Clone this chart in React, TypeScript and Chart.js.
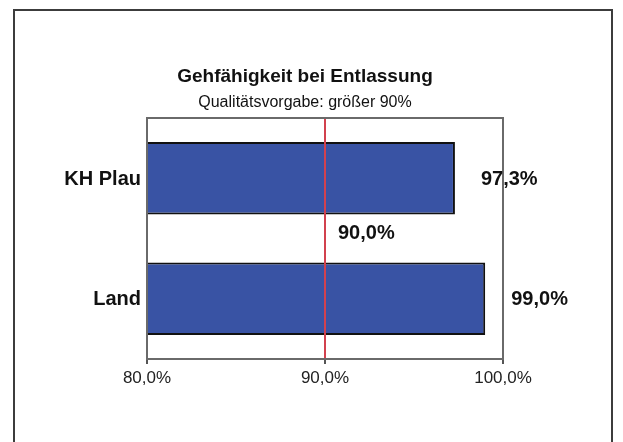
import React, { useEffect, useRef } from "react";
import { Chart, registerables } from "chart.js";

Chart.register(...registerables);

const categories: string[] = ["KH Plau", "Land"];
const values: number[] = [97.3, 99.0];
const targetValue = 90.0;
const xTicksMin = 80;
const xTicksMax = 100;
const xTickStep = 10;
const titleText = "Gehfähigkeit bei Entlassung";
const subtitleText = "Qualitätsvorgabe: größer 90%";

const FONT = "'Liberation Sans', Arial, sans-serif";
const fmt = (v: number) => v.toFixed(1).replace(".", ",") + "%";

const framePlugin = {
  id: "frame",
  beforeDraw(chart: any) {
    const ctx = chart.ctx;
    ctx.save();
    ctx.fillStyle = "#ffffff";
    ctx.fillRect(0, 0, chart.width, chart.height);
    ctx.strokeStyle = "#3c3c3c";
    ctx.lineWidth = 2;
    ctx.strokeRect(14, 10, 598, 470);
    ctx.restore();
  },
  afterDatasetsDraw(chart: any) {
    const ctx = chart.ctx;
    const a = chart.chartArea;
    ctx.save();
    ctx.strokeStyle = "#6a6a6a";
    ctx.lineWidth = 2;
    ctx.strokeRect(a.left, a.top, a.right - a.left, a.bottom - a.top);
    ctx.fillStyle = "#111111";
    ctx.font = `bold 20px ${FONT}`;
    ctx.textBaseline = "middle";
    const xs = chart.scales.x;
    const ys = chart.scales.y;
    // category labels (left of the plot area)
    ctx.textAlign = "right";
    chart.data.labels.forEach((lab: string, i: number) => {
      ctx.fillText(lab, a.left - 6, ys.getPixelForValue(i) + 1);
    });
    // data labels
    ctx.textAlign = "left";
    const meta = chart.getDatasetMeta(0);
    meta.data.forEach((bar: any, i: number) => {
      ctx.fillText(fmt(values[i]), bar.x + 26, bar.y + 1);
    });
    const midY = (ys.getPixelForValue(0) + ys.getPixelForValue(1)) / 2;
    ctx.fillText(fmt(targetValue), xs.getPixelForValue(targetValue) + 13, midY - 5);
    ctx.restore();
  },
};

export default function App() {
  const ref = useRef<HTMLCanvasElement | null>(null);
  useEffect(() => {
    if (!ref.current) return;
    const chart = new Chart(ref.current, {
      type: "bar",
      data: {
        labels: categories,
        datasets: [
          {
            type: "bar",
            data: values,
            backgroundColor: "#3953a4",
            borderColor: "#111111",
            borderWidth: 2,
            borderSkipped: false,
            grouped: false,
            barPercentage: 0.6,
            categoryPercentage: 1,
            order: 2,
          } as any,
          {
            type: "line",
            data: [
              { x: targetValue, y: 0 },
              { x: targetValue, y: 1 },
            ],
            xAxisID: "x",
            yAxisID: "y2",
            borderColor: "#d2414e",
            borderWidth: 2,
            pointRadius: 0,
            order: 1,
          } as any,
        ],
      },
      options: {
        indexAxis: "y",
        responsive: false,
        animation: false,
        devicePixelRatio: 1,
        layout: { padding: { left: 107, right: 120, top: 65, bottom: 53 } },
        plugins: {
          legend: { display: false },
          tooltip: { enabled: false },
          title: {
            display: true,
            text: titleText,
            color: "#111111",
            font: { family: FONT, size: 19, weight: "bold" },
            padding: { top: 0, bottom: 5 },
          },
          subtitle: {
            display: true,
            text: subtitleText,
            color: "#111111",
            font: { family: FONT, size: 16, weight: "normal" },
            padding: { top: 0, bottom: 6 },
          },
        },
        scales: {
          x: {
            type: "linear",
            min: xTicksMin,
            max: xTicksMax,
            ticks: {
              stepSize: xTickStep,
              color: "#222222",
              font: { family: FONT, size: 17 },
              padding: 4,
              callback: (v: any) => fmt(Number(v)),
            },
            grid: {
              drawOnChartArea: false,
              drawTicks: true,
              tickLength: 5,
              color: "#555555",
              lineWidth: 2,
            },
            border: { display: false },
            afterFit: (s: any) => {
              s.height = 30;
            },
          },
          y: {
            type: "category",
            ticks: { display: false },
            grid: { display: false, drawTicks: false },
            border: { display: false },
            afterFit: (s: any) => {
              s.width = 40;
            },
          },
          y2: {
            type: "linear",
            min: 0,
            max: 1,
            offset: false,
            display: false,
          },
        },
      } as any,
      plugins: [framePlugin],
    });
    return () => chart.destroy();
  }, []);
  return (
    <div style={{ position: "absolute", left: 0, top: 0 }}>
      <canvas ref={ref} width={623} height={442} style={{ display: "block" }} />
    </div>
  );
}
